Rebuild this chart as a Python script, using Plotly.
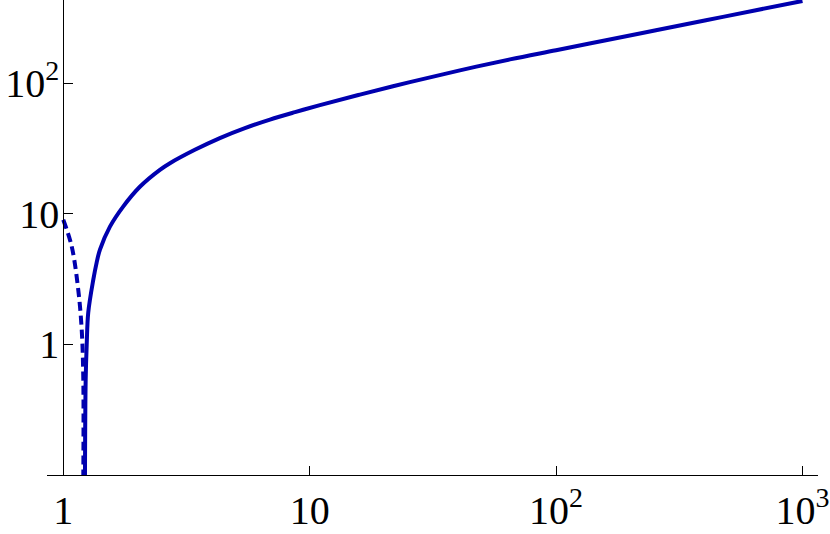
import plotly.graph_objects as go

# branch where the quantity is positive (solid)
x_pos = [1.225, 1.233, 1.245, 1.263, 1.324, 1.366, 1.409, 1.547, 1.747, 2.046, 2.467,
         2.71, 3.42, 4.32, 5.46, 6.90, 8.72, 11.01, 16.0, 25.5, 40.7, 65.0,
         100, 159.4, 254.3, 405.8, 647.6, 1000]
y_pos = [0.1, 0.54, 1.0, 1.754, 3.13, 4.23, 5.32, 7.97, 11.3, 16.1, 21.7,
         24.4, 30.9, 38.0, 45.3, 52.6, 60.0, 67.9, 81.8, 102.0, 125.4, 152.1,
         178.9, 213.4, 254.4, 303.4, 361.9, 426.3]

# branch where it is negative, plotted as absolute value (dashed)
x_neg = [1.0, 1.082, 1.150, 1.188, 1.206, 1.206]
y_neg = [9.01, 5.63, 2.63, 1.30, 0.54, 0.1]

tick_x = [1, 10, 100, 1000]
tick_x_text = ['1', '10', '10<sup>2</sup>', '10<sup>3</sup>']
tick_y = [1, 10, 100]
tick_y_text = ['1', '10', '10<sup>2</sup>']

x_range = [-0.066, 3.063]
y_range = [-1.0, 2.637]

blue = 'rgb(0, 0, 175)'

fig = go.Figure(layout={'width': 830, 'height': 534})
fig.add_trace(go.Scatter(x=x_neg, y=y_neg, mode='lines', line_shape='spline',
                         line=dict(color=blue, width=4, dash='9px,5px')))
fig.add_trace(go.Scatter(x=x_pos, y=y_pos, mode='lines', line_shape='spline',
                         line=dict(color=blue, width=4)))

axis_font = dict(family='Times New Roman, Liberation Serif, serif', size=40, color='black')
fig.update_layout(
    showlegend=False,
    plot_bgcolor='white',
    paper_bgcolor='white',
    margin=dict(l=47, r=12, t=0, b=59),
    xaxis=dict(
        type='log', range=x_range, showgrid=False, zeroline=False,
        showline=True, linecolor='black', linewidth=1, automargin=False,
        ticks='inside', ticklen=9, tickcolor='black',
        tickvals=tick_x, ticktext=tick_x_text, tickfont=axis_font,
    ),
    yaxis=dict(
        type='log', range=y_range, showgrid=False, zeroline=False,
        showline=True, linecolor='black', linewidth=1, automargin=False,
        ticks='inside', ticklen=9, tickcolor='black', ticklabelstandoff=-4,
        tickvals=tick_y, ticktext=tick_y_text, tickfont=axis_font,
        anchor='free', position=-x_range[0] / (x_range[1] - x_range[0]),
    ),
)

# the page body has a default 8px margin; drop it so the figure sits at the corner
fig.write_html("out.html", config={'displayModeBar': False},
               post_script="document.body.style.margin = '0';")
